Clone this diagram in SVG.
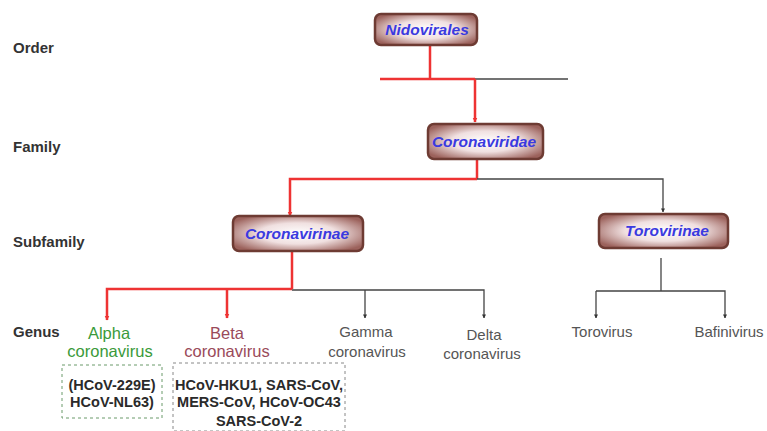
<svg xmlns="http://www.w3.org/2000/svg" width="767" height="431" viewBox="0 0 767 431">
<defs>
<radialGradient id="boxg" cx="0.5" cy="0.5" r="0.6">
<stop offset="0" stop-color="#ffffff"/>
<stop offset="0.5" stop-color="#f0e0e0"/>
<stop offset="1" stop-color="#9c625c"/>
</radialGradient>
<marker id="ar" viewBox="0 0 10 10" refX="9" refY="5" markerWidth="5" markerHeight="6" orient="auto" markerUnits="userSpaceOnUse">
<path d="M0,0 L10,5 L0,10 z" fill="#ee3333"/>
</marker>
<marker id="ag" viewBox="0 0 10 10" refX="9" refY="5" markerWidth="4" markerHeight="4" orient="auto" markerUnits="userSpaceOnUse">
<path d="M0,0 L10,5 L0,10 z" fill="#333"/>
</marker>
</defs>
<style>
.box{fill:url(#boxg);stroke:#6e3b33;stroke-width:2.5}
.nt{font-family:"Liberation Sans",Arial,sans-serif;font-size:15.5px;font-weight:bold;font-style:italic;fill:#3a3ae0;text-anchor:middle}
.lv{font-family:"Liberation Sans",Arial,sans-serif;font-size:15px;font-weight:bold;fill:#333}
.gn{font-family:"Liberation Sans",Arial,sans-serif;font-size:15px;fill:#555;text-anchor:middle}
.ab{font-size:16.5px}
.bx{font-family:"Liberation Sans",Arial,sans-serif;font-size:14.5px;font-weight:bold;fill:#2a2a2a;text-anchor:middle}
.r{stroke:#ee3333;stroke-width:2.5;fill:none}
.g{stroke:#444;stroke-width:1.3;fill:none}
.db{fill:none;stroke:#888;stroke-width:1;stroke-dasharray:3,3}
</style>
<g id="levels">
<text class="lv" x="13" y="53">Order</text>
<text class="lv" x="13" y="152">Family</text>
<text class="lv" x="13" y="247">Subfamily</text>
<text class="lv" x="13" y="337">Genus</text>
</g>
<g id="connectors">
<path class="r" d="M430,45 V79"/>
<path class="r" d="M380,79 H475"/>
<path class="g" d="M475,79 H568"/>
<path class="r" d="M475,79 V122" marker-end="url(#ar)"/>
<path class="r" d="M477,159 V179"/>
<path class="r" d="M477,179 H290 V216" marker-end="url(#ar)"/>
<path class="g" d="M477,179 H663 V212" marker-end="url(#ag)"/>
<path class="r" d="M292,251 V289"/>
<path class="r" d="M292,289 H107 V320" marker-end="url(#ar)"/>
<path class="r" d="M227,289 V318" marker-end="url(#ar)"/>
<path class="g" d="M292,290 H484 V318" marker-end="url(#ag)"/>
<path class="g" d="M365,290 V318" marker-end="url(#ag)"/>
<path class="g" d="M661,258 V291"/>
<path class="g" d="M596,291 H725 V318" marker-end="url(#ag)"/>
<path class="g" d="M596,291 V318" marker-end="url(#ag)"/>
</g>
<g id="nidovirales">
<rect class="box" x="375" y="14" width="102" height="31" rx="6"/>
<text class="nt" x="427" y="35">Nidovirales</text>
</g>
<g id="coronaviridae">
<rect class="box" x="428" y="124" width="115" height="35" rx="6"/>
<text class="nt" x="484" y="147">Coronaviridae</text>
</g>
<g id="coronavirinae">
<rect class="box" x="233" y="216" width="130" height="35" rx="6"/>
<text class="nt" x="297" y="239">Coronavirinae</text>
</g>
<g id="torovirinae">
<rect class="box" x="599" y="214" width="129" height="34" rx="6"/>
<text class="nt" x="667" y="236">Torovirinae</text>
</g>
<g id="alpha">
<text class="gn ab" x="109" y="339" style="fill:#3a9a3a">Alpha</text>
<text class="gn ab" x="110" y="357" style="fill:#3a9a3a">coronavirus</text>
</g>
<g id="beta">
<text class="gn ab" x="227" y="339" style="fill:#9a4a5a">Beta</text>
<text class="gn ab" x="227" y="357" style="fill:#9a4a5a">coronavirus</text>
</g>
<g id="gamma">
<text class="gn" x="366" y="337">Gamma</text>
<text class="gn" x="367" y="357">coronavirus</text>
</g>
<g id="delta">
<text class="gn" x="484" y="340">Delta</text>
<text class="gn" x="482" y="359">coronavirus</text>
</g>
<g id="torovirus">
<text class="gn" x="602" y="337">Torovirus</text>
</g>
<g id="bafinivirus">
<text class="gn" x="729" y="337">Bafinivirus</text>
</g>
<g id="alpha-members">
<rect class="db" x="62" y="365" width="100" height="53" style="stroke:#6a9a6a"/>
<text class="bx" x="112" y="390">(HCoV-229E)</text>
<text class="bx" x="112" y="407">HCoV-NL63)</text>
</g>
<g id="beta-members">
<rect class="db" x="173" y="363" width="172" height="68"/>
<text class="bx" x="259" y="390">HCoV-HKU1, SARS-CoV,</text>
<text class="bx" x="259" y="407">MERS-CoV, HCoV-OC43</text>
<text class="bx" x="259" y="426">SARS-CoV-2</text>
</g>
</svg>
